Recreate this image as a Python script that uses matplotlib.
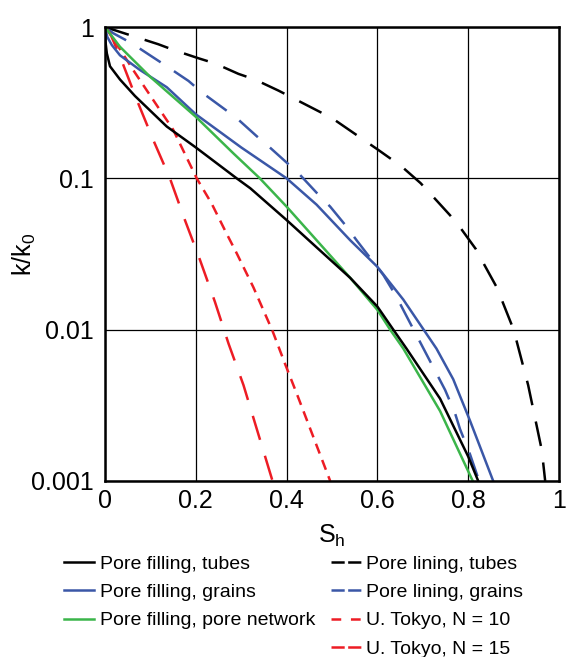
import matplotlib
matplotlib.use("Agg")
import matplotlib.pyplot as plt
from matplotlib.lines import Line2D
from matplotlib.ticker import FixedLocator, FixedFormatter, NullLocator

plt.rcParams['font.family'] = ['Liberation Sans', 'DejaVu Sans']
plt.rcParams['mathtext.default'] = 'regular'
plt.rcParams['lines.scale_dashes'] = False

# values: S_h and k/k0 for each curve
s_fill_tubes = [0, 0.001, 0.004, 0.011, 0.033, 0.066, 0.136, 0.2, 0.29, 0.32, 0.40, 0.466, 0.54,
                0.60, 0.635, 0.664, 0.738, 0.80, 0.822]
k_fill_tubes = [1, 0.8, 0.67, 0.55, 0.45, 0.35, 0.22, 0.16, 0.1, 0.086, 0.053, 0.035, 0.022,
                0.0142, 0.01, 0.0075, 0.0035, 0.00145, 0.001]

s_fill_grains = [0, 0.005, 0.015, 0.033, 0.077, 0.136, 0.2, 0.30, 0.40, 0.466, 0.54, 0.60,
                 0.657, 0.73, 0.767, 0.804, 0.855]
k_fill_grains = [1, 0.86, 0.76, 0.65, 0.52, 0.40, 0.265, 0.16, 0.1, 0.067, 0.039, 0.026,
                 0.0158, 0.0075, 0.0047, 0.0025, 0.001]

s_fill_network = [0, 0.033, 0.099, 0.2, 0.283, 0.341, 0.40, 0.466, 0.54, 0.60, 0.628, 0.657, 0.738, 0.81]
k_fill_network = [1, 0.74, 0.47, 0.255, 0.146, 0.1, 0.065, 0.039, 0.022, 0.0135, 0.01, 0.0075, 0.0029, 0.001]

s_lin_tubes = [0, 0.018, 0.062, 0.117, 0.154, 0.207, 0.242, 0.294, 0.33, 0.382, 0.5, 0.602, 0.653,
               0.695, 0.722, 0.76, 0.783, 0.817, 0.835, 0.863, 0.9, 0.932, 0.951, 0.962, 0.9695]
k_lin_tubes = [1, 0.96, 0.87, 0.77, 0.70, 0.62, 0.575, 0.49, 0.45, 0.38, 0.25, 0.154, 0.12,
               0.093, 0.076, 0.057, 0.047, 0.034, 0.027, 0.019, 0.01, 0.0043, 0.0023, 0.0016, 0.001]

s_lin_grains = [0, 0.018, 0.059, 0.106, 0.136, 0.184, 0.213, 0.261, 0.29, 0.334, 0.363, 0.404, 0.43,
                0.47, 0.496, 0.532, 0.554, 0.591, 0.613, 0.642, 0.661, 0.686, 0.749, 0.771, 0.782,
                0.804, 0.824]
k_lin_grains = [1, 0.91, 0.78, 0.63, 0.55, 0.44, 0.37, 0.29, 0.25, 0.19, 0.16, 0.124, 0.105,
                0.078, 0.065, 0.048, 0.039, 0.028, 0.023, 0.0165, 0.0128, 0.0092, 0.004, 0.0028, 0.0022,
                0.0015, 0.001]

s_tokyo10 = [0, 0.018, 0.062, 0.106, 0.15, 0.202, 0.235, 0.268, 0.29, 0.327, 0.352, 0.369, 0.396, 0.422, 0.496]
k_tokyo10 = [1, 0.84, 0.52, 0.33, 0.21, 0.10, 0.068, 0.043, 0.032, 0.019, 0.0128, 0.0098, 0.006, 0.0038, 0.001]

s_tokyo15 = [0, 0.011, 0.033, 0.07, 0.106, 0.143, 0.176, 0.209, 0.242, 0.272, 0.305, 0.369]
k_tokyo15 = [1, 0.91, 0.64, 0.33, 0.18, 0.1, 0.053, 0.029, 0.0153, 0.0081, 0.0043, 0.001]

x_ticks = [0, 0.2, 0.4, 0.6, 0.8, 1]
x_labels = ["0", "0.2", "0.4", "0.6", "0.8", "1"]
y_ticks = [0.001, 0.01, 0.1, 1]
y_labels = ["0.001", "0.01", "0.1", "1"]

black = "#000000"
blue = "#3a57a7"
green = "#3bb54a"
red = "#ed1c24"
lw = 1.8

fig = plt.figure(figsize=(5.85, 6.57), dpi=100)
ax = fig.add_axes([0.1795, 0.2679, 0.7761, 0.6910])

ax.plot(s_lin_tubes, k_lin_tubes, color=black, lw=lw, dashes=(18, 12))
ax.plot(s_lin_grains, k_lin_grains, color=blue, lw=lw, dashes=(18, 11.5))
ax.plot(s_tokyo10, k_tokyo10, color=red, lw=lw, dashes=(7.5, 5))
ax.plot(s_tokyo15, k_tokyo15, color=red, lw=lw, dashes=(18, 12))
ax.plot(s_fill_grains, k_fill_grains, color=blue, lw=lw)
ax.plot(s_fill_network, k_fill_network, color=green, lw=lw)
ax.plot(s_fill_tubes, k_fill_tubes, color=black, lw=lw)

ax.set_yscale("log")
ax.set_xlim(0, 1)
ax.set_ylim(0.001, 1)
ax.xaxis.set_major_locator(FixedLocator(x_ticks))
ax.xaxis.set_major_formatter(FixedFormatter(x_labels))
ax.yaxis.set_major_locator(FixedLocator(y_ticks))
ax.yaxis.set_major_formatter(FixedFormatter(y_labels))
ax.yaxis.set_minor_locator(NullLocator())
ax.tick_params(length=0, labelsize=18)
ax.tick_params(axis="y", pad=8)
ax.tick_params(axis="x", pad=6)
ax.grid(True, color="black", lw=0.9)
for sp in ax.spines.values():
    sp.set_linewidth(1.8)

fig.text(332 / 585, 1 - 536 / 657, "S$_h$", fontsize=18, ha="center", va="center")
fig.text(24 / 585, 1 - 254 / 657, "k/k$_0$", fontsize=18, ha="center", va="center", rotation=90)

h1 = [Line2D([], [], color=black, lw=lw),
      Line2D([], [], color=blue, lw=lw),
      Line2D([], [], color=green, lw=lw)]
l1 = ["Pore filling, tubes", "Pore filling, grains", "Pore filling, pore network"]
h2 = [Line2D([], [], color=black, lw=lw, dashes=(9.5, 2.5)),
      Line2D([], [], color=blue, lw=lw, dashes=(9.5, 2.5)),
      Line2D([], [], color=red, lw=lw, dashes=(7, 7)),
      Line2D([], [], color=red, lw=lw, dashes=(9.5, 2.5))]
l2 = ["Pore lining, tubes", "Pore lining, grains", "U. Tokyo, N = 10", "U. Tokyo, N = 15"]

fig.legend(h1, l1, loc="upper left", bbox_to_anchor=(0.1087, 0.155),
           frameon=False, fontsize=14, handlelength=1.55, handletextpad=0.3,
           labelspacing=0.55, borderaxespad=0, borderpad=0)
fig.legend(h2, l2, loc="upper left", bbox_to_anchor=(0.565, 0.155),
           frameon=False, fontsize=14, handlelength=1.55, handletextpad=0.3,
           labelspacing=0.55, borderaxespad=0, borderpad=0)

fig.savefig("out.png", dpi=100)
